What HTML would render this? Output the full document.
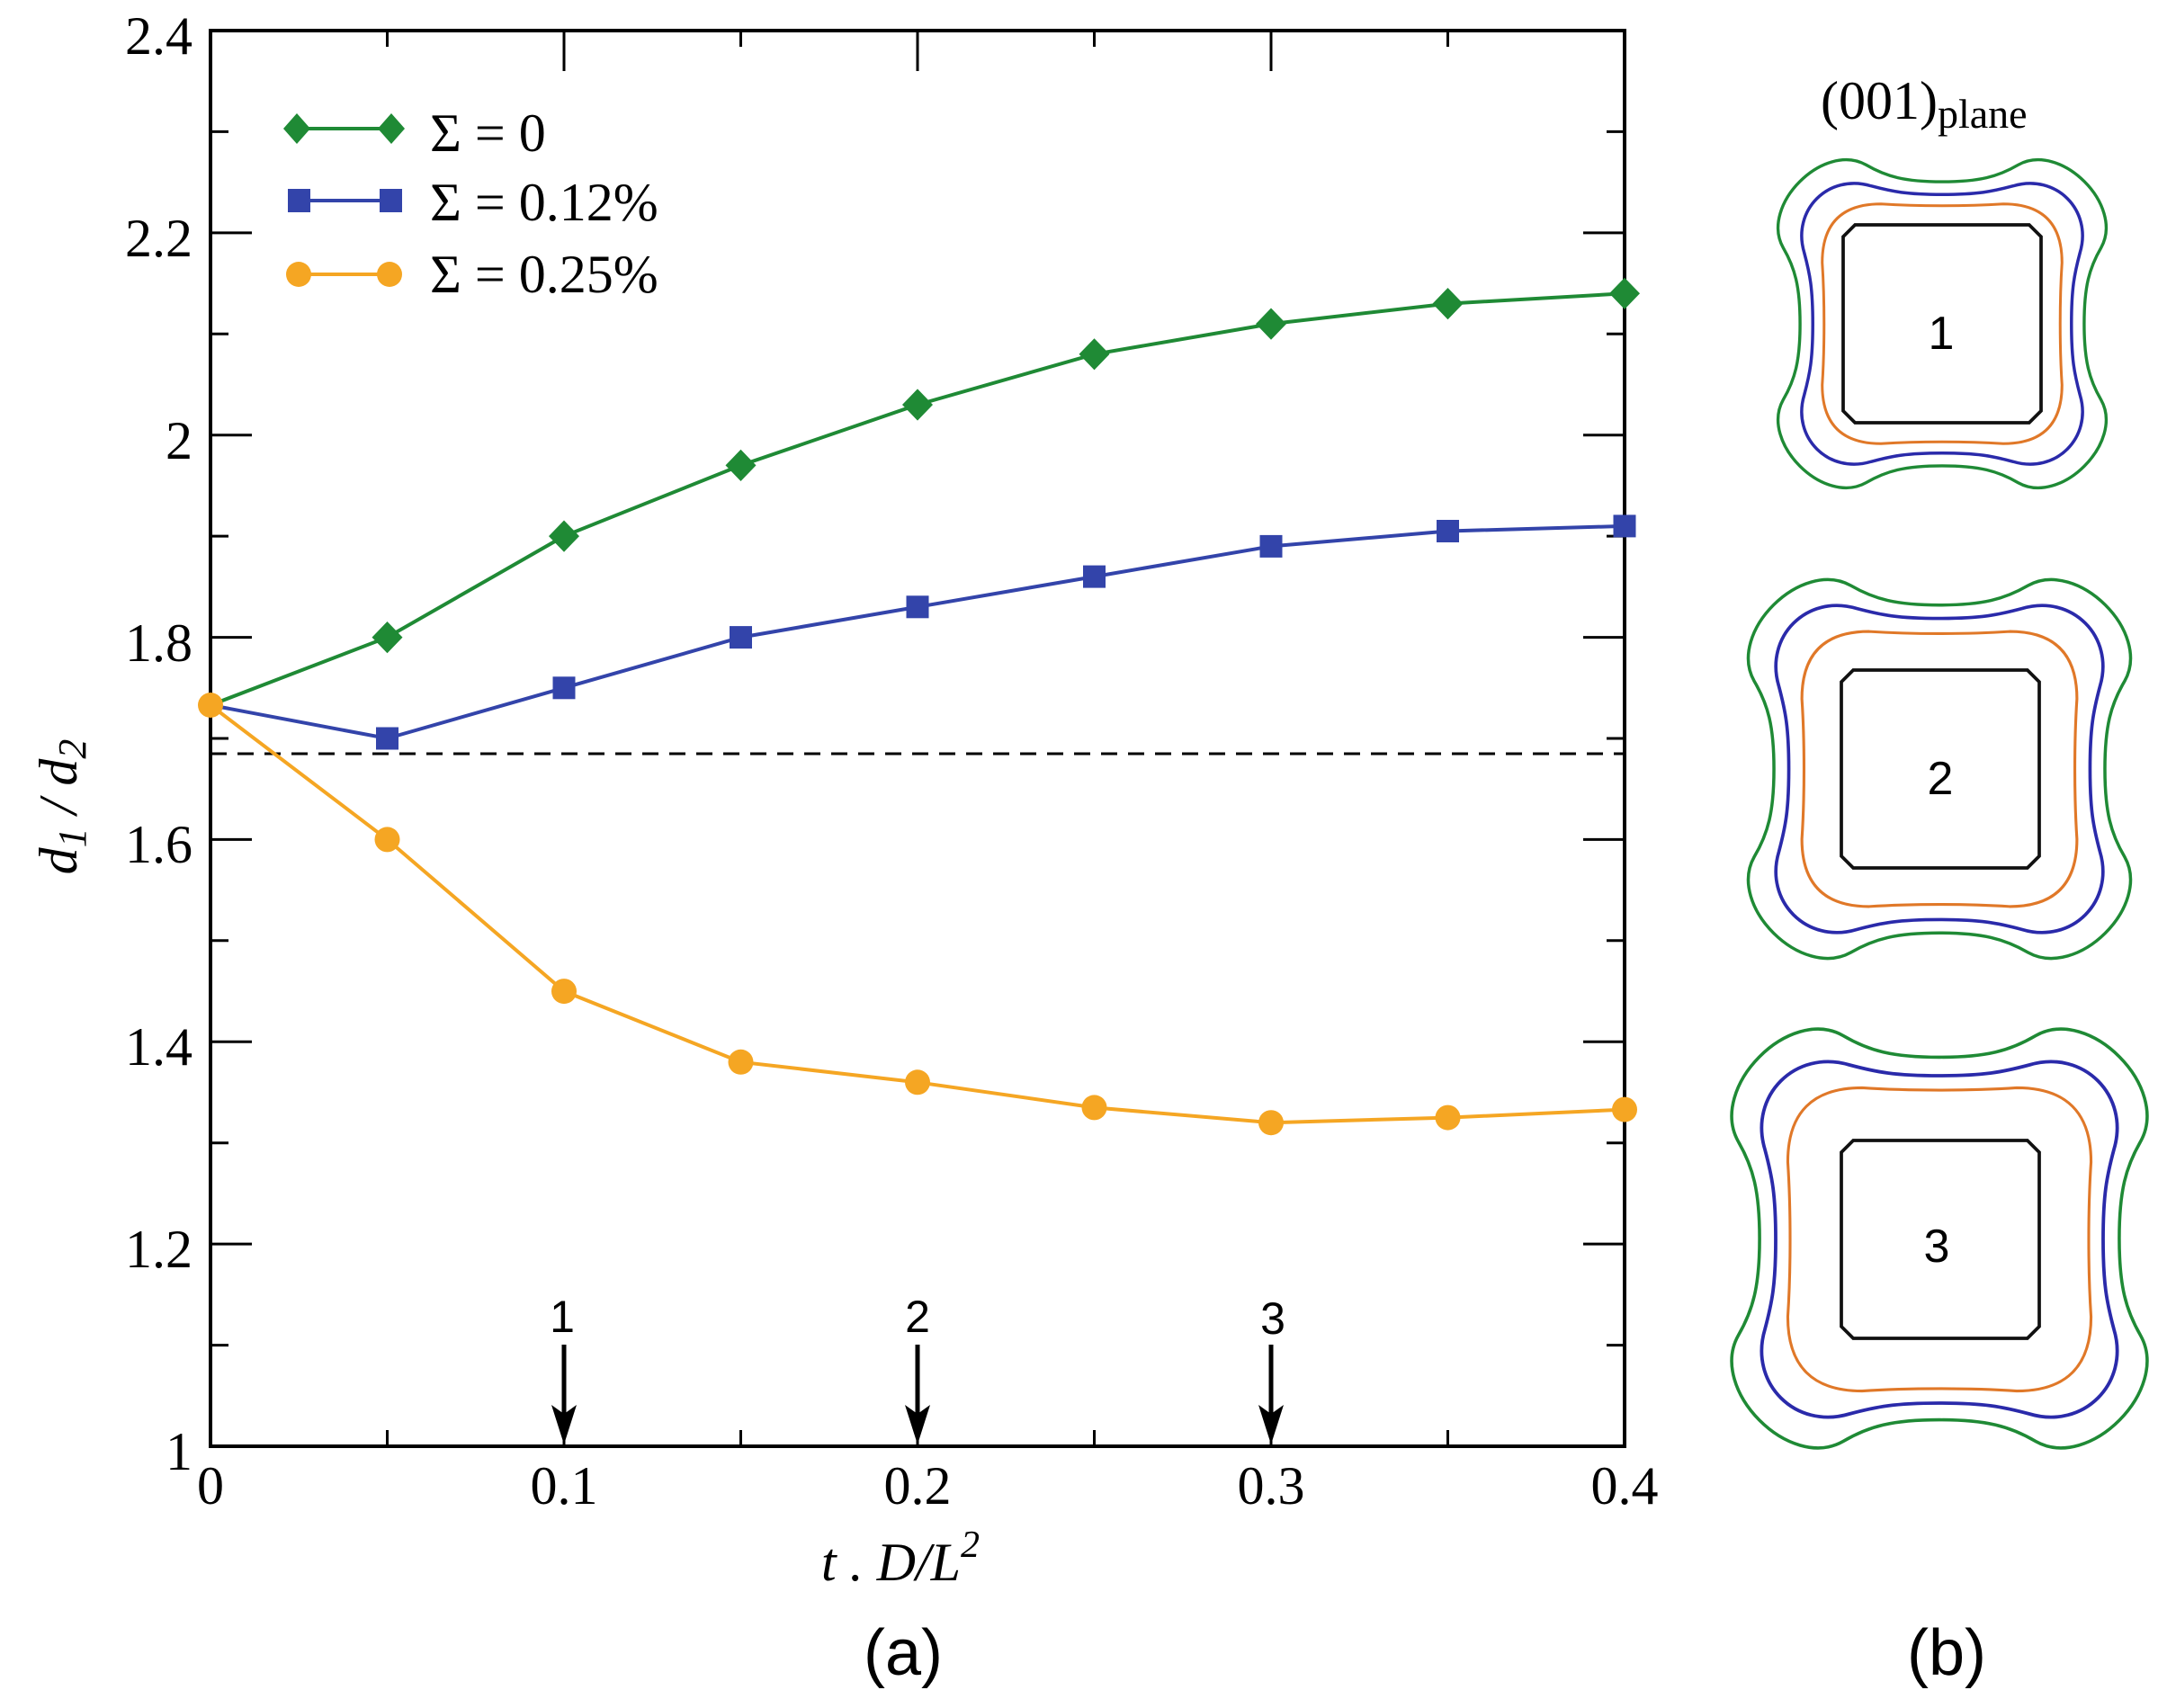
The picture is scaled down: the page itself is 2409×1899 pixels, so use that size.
<!DOCTYPE html>
<html><head><meta charset="utf-8"><style>
html,body{margin:0;padding:0;background:#fff;}
svg{display:block;}
.t{font-family:"Liberation Serif",serif;font-size:60px;fill:#000;}
.s{font-family:"Liberation Sans",sans-serif;fill:#000;}
</style></head><body>
<svg width="2409" height="1899" viewBox="0 0 2409 1899" xmlns="http://www.w3.org/2000/svg">
<defs>
<path id="lobe" d="M 0,-0.84 C .22,-.84 .33,-.87 .45,-.94 C .7,-1.08 1.08,-.7 .94,-.45 C .87,-.33 .84,-.22 .84,0 C .84,.22 .87,.33 .94,.45 C 1.08,.7 .7,1.08 .45,.94 C .33,.87 .22,.84 0,.84 C -.22,.84 -.33,.87 -.45,.94 C -.7,1.08 -1.08,.7 -.94,.45 C -.87,.33 -.84,.22 -.84,0 C -.84,-.22 -.87,-.33 -.94,-.45 C -1.08,-.7 -.7,-1.08 -.45,-.94 C -.33,-.87 -.22,-.84 0,-.84 Z"/>
<path id="blob" d="M 0,-0.91 C .25,-.91 .35,-.93 .5,-.97 C .8,-1.06 1.06,-.8 .97,-.5 C .93,-.35 .91,-.25 .91,0 C .91,.25 .93,.35 .97,.5 C 1.06,.8 .8,1.06 .5,.97 C .35,.93 .25,.91 0,.91 C -.25,.91 -.35,.93 -.5,.97 C -.8,1.06 -1.06,.8 -.97,.5 C -.93,.35 -.91,.25 -.91,0 C -.91,-.25 -.93,-.35 -.97,-.5 C -1.06,-.8 -.8,-1.06 -.5,-.97 C -.35,-.93 -.25,-.91 0,-.91 Z"/>
<path id="orng" d="M -0.5,-0.98 C -0.2,-0.96 0.2,-0.96 0.5,-0.98 Q 0.98,-0.98 0.98,-0.5 C 0.96,-0.2 0.96,0.2 0.98,0.5 Q 0.98,0.98 0.5,0.98 C 0.2,0.96 -0.2,0.96 -0.5,0.98 Q -0.98,0.98 -0.98,0.5 C -0.96,0.2 -0.96,-0.2 -0.98,-0.5 Q -0.98,-0.98 -0.5,-0.98 Z"/>
<path id="blk" d="M -0.88,-1 L 0.88,-1 L 1,-0.88 L 1,0.88 L 0.88,1 L -0.88,1 L -1,0.88 L -1,-0.88 Z"/>
</defs>
<rect x="234" y="34" width="1572" height="1574" fill="none" stroke="#000" stroke-width="4"/>
<g stroke="#000" stroke-width="3">
<path d="M234 258.9h46M234 483.7h46M234 708.6h46M234 933.4h46M234 1158.3h46M234 1383.1h46"/>
<path d="M234 146.4h20M234 371.3h20M234 596.1h20M234 821h20M234 1045.8h20M234 1270.7h20M234 1495.6h20"/>
<path d="M1806 258.9h-46M1806 483.7h-46M1806 708.6h-46M1806 933.4h-46M1806 1158.3h-46M1806 1383.1h-46"/>
<path d="M1806 146.4h-20M1806 371.3h-20M1806 596.1h-20M1806 821h-20M1806 1045.8h-20M1806 1270.7h-20M1806 1495.6h-20"/>
<path d="M627 1608v-45M1020 1608v-45M1413 1608v-45M430.5 1608v-18M823.5 1608v-18M1216.5 1608v-18M1609.5 1608v-18"/>
<path d="M627 34v45M1020 34v45M1413 34v45M430.5 34v18M823.5 34v18M1216.5 34v18M1609.5 34v18"/>
</g>
<g class="t" text-anchor="end">
<text x="214" y="60">2.4</text><text x="214" y="285">2.2</text><text x="214" y="510">2</text>
<text x="214" y="735">1.8</text><text x="214" y="959">1.6</text><text x="214" y="1184">1.4</text>
<text x="214" y="1409">1.2</text><text x="214" y="1634">1</text>
</g>
<g class="t" text-anchor="middle">
<text x="234" y="1672">0</text><text x="627" y="1672">0.1</text><text x="1020" y="1672">0.2</text>
<text x="1413" y="1672">0.3</text><text x="1806" y="1672">0.4</text>
</g>
<text class="t" x="1001" y="1757" text-anchor="middle" font-style="italic" font-size="64">t . D/L<tspan dy="-26" font-size="42">2</tspan></text>
<text class="t" transform="translate(85,897) rotate(-90)" text-anchor="middle" font-style="italic" font-size="66">d<tspan font-size="44" dy="10">1</tspan><tspan dy="-10"> / d</tspan><tspan font-size="44" dy="10">2</tspan></text>
<text class="s" x="1004" y="1862" text-anchor="middle" font-size="72">(a)</text>
<text class="s" x="2164" y="1862" text-anchor="middle" font-size="72">(b)</text>
<line x1="234" y1="838" x2="1806" y2="838" stroke="#000" stroke-width="3" stroke-dasharray="18,12"/>
<g stroke="#000" stroke-width="5">
<line x1="627" y1="1495" x2="627" y2="1580"/><line x1="1020" y1="1495" x2="1020" y2="1580"/><line x1="1413" y1="1495" x2="1413" y2="1580"/>
</g>
<g fill="#000">
<path d="M613 1562 L627 1606 L641 1562 L627 1572Z"/><path d="M1006 1562 L1020 1606 L1034 1562 L1020 1572Z"/><path d="M1399 1562 L1413 1606 L1427 1562 L1413 1572Z"/>
</g>
<g class="s" font-size="50" text-anchor="middle">
<text x="625" y="1481">1</text><text x="1020" y="1481">2</text><text x="1415" y="1483">3</text>
</g>
<polyline fill="none" stroke="#f5a623" stroke-width="4" points="234,784 430.5,933.4 627,1102.1 823.5,1180.8 1020,1203.3 1216.5,1231.4 1413,1248.2 1609.5,1242.6 1806,1233.6"/>
<polyline fill="none" stroke="#3344aa" stroke-width="4" points="234,784 430.5,821 627,764.8 823.5,708.6 1020,674.8 1216.5,641.1 1413,607.4 1609.5,590.5 1806,584.9"/>
<polyline fill="none" stroke="#1f8a35" stroke-width="4" points="234,784 430.5,708.6 627,596.1 823.5,517.4 1020,450 1216.5,393.8 1413,360.1 1609.5,337.6 1806,326.3"/>
<g fill="#1f8a35">
<path d="M430.5 691l17 17.6-17 17.6-17-17.6z M627 578.5l17 17.6-17 17.6-17-17.6z M823.5 499.8l17 17.6-17 17.6-17-17.6z M1020 432.4l17 17.6-17 17.6-17-17.6z M1216.5 376.2l17 17.6-17 17.6-17-17.6z M1413 342.5l17 17.6-17 17.6-17-17.6z M1609.5 320l17 17.6-17 17.6-17-17.6z M1806 308.7l17 17.6-17 17.6-17-17.6z"/>
</g>
<g fill="#3344aa">
<rect x="418" y="808.5" width="25" height="25"/><rect x="614.5" y="752.3" width="25" height="25"/><rect x="811" y="696.1" width="25" height="25"/><rect x="1007.5" y="662.3" width="25" height="25"/><rect x="1204" y="628.6" width="25" height="25"/><rect x="1400.5" y="594.9" width="25" height="25"/><rect x="1597" y="578" width="25" height="25"/><rect x="1793.5" y="572.4" width="25" height="25"/>
</g>
<g fill="#f5a623">
<circle cx="234" cy="784" r="14"/><circle cx="430.5" cy="933.4" r="14"/><circle cx="627" cy="1102.1" r="14"/><circle cx="823.5" cy="1180.8" r="14"/><circle cx="1020" cy="1203.3" r="14"/><circle cx="1216.5" cy="1231.4" r="14"/><circle cx="1413" cy="1248.2" r="14"/><circle cx="1609.5" cy="1242.6" r="14"/><circle cx="1806" cy="1233.6" r="14"/>
</g>
<line x1="330" y1="143" x2="435" y2="143" stroke="#1f8a35" stroke-width="4"/>
<path fill="#1f8a35" d="M330 126l15 17-15 17-15-17zM435 126l15 17-15 17-15-17z"/>
<line x1="330" y1="223" x2="435" y2="223" stroke="#3344aa" stroke-width="4"/>
<rect x="320" y="210" width="25" height="26" fill="#3344aa"/><rect x="422" y="210" width="25" height="26" fill="#3344aa"/>
<line x1="330" y1="305" x2="435" y2="305" stroke="#f5a623" stroke-width="4"/>
<circle cx="332" cy="305" r="14" fill="#f5a623"/><circle cx="433" cy="305" r="14" fill="#f5a623"/>
<g class="t" font-size="58">
<text x="478" y="168">Σ = 0</text><text x="478" y="245">Σ = 0.12%</text><text x="478" y="325">Σ = 0.25%</text>
</g>
<text class="t" x="2024" y="132" font-size="64">(001)<tspan font-size="46" dy="10">plane</tspan></text>
<g fill="none">
<use href="#lobe" transform="translate(2159,360) scale(188,188)" stroke="#1f8a35" style="stroke-width:0.018"/>
<use href="#blob" transform="translate(2159,360) scale(158,158)" stroke="#2a2aaa" style="stroke-width:0.022"/>
<use href="#orng" transform="translate(2159,360) scale(136,136)" stroke="#e07828" style="stroke-width:0.022"/>
<use href="#blk" transform="translate(2159,360) scale(110,110)" stroke="#111" style="stroke-width:0.034"/>

<use href="#lobe" transform="translate(2156,855) scale(219,217)" stroke="#1f8a35" style="stroke-width:0.016"/>
<use href="#blob" transform="translate(2156,855) scale(184,184)" stroke="#2a2aaa" style="stroke-width:0.02"/>
<use href="#orng" transform="translate(2156,855) scale(156,156)" stroke="#e07828" style="stroke-width:0.02"/>
<use href="#blk" transform="translate(2157,855) scale(110,110)" stroke="#111" style="stroke-width:0.034"/>

<use href="#lobe" transform="translate(2156,1377) scale(238,240)" stroke="#1f8a35" style="stroke-width:0.015"/>
<use href="#blob" transform="translate(2156,1378) scale(200,200)" stroke="#2a2aaa" style="stroke-width:0.019"/>
<use href="#orng" transform="translate(2156,1378) scale(172,172)" stroke="#e07828" style="stroke-width:0.018"/>
<use href="#blk" transform="translate(2157,1378) scale(110,110)" stroke="#111" style="stroke-width:0.034"/>
</g>
<g class="s" font-size="52" text-anchor="middle">
<text x="2158" y="388">1</text><text x="2157" y="883">2</text><text x="2153" y="1403">3</text>
</g>
</svg>
</body></html>
